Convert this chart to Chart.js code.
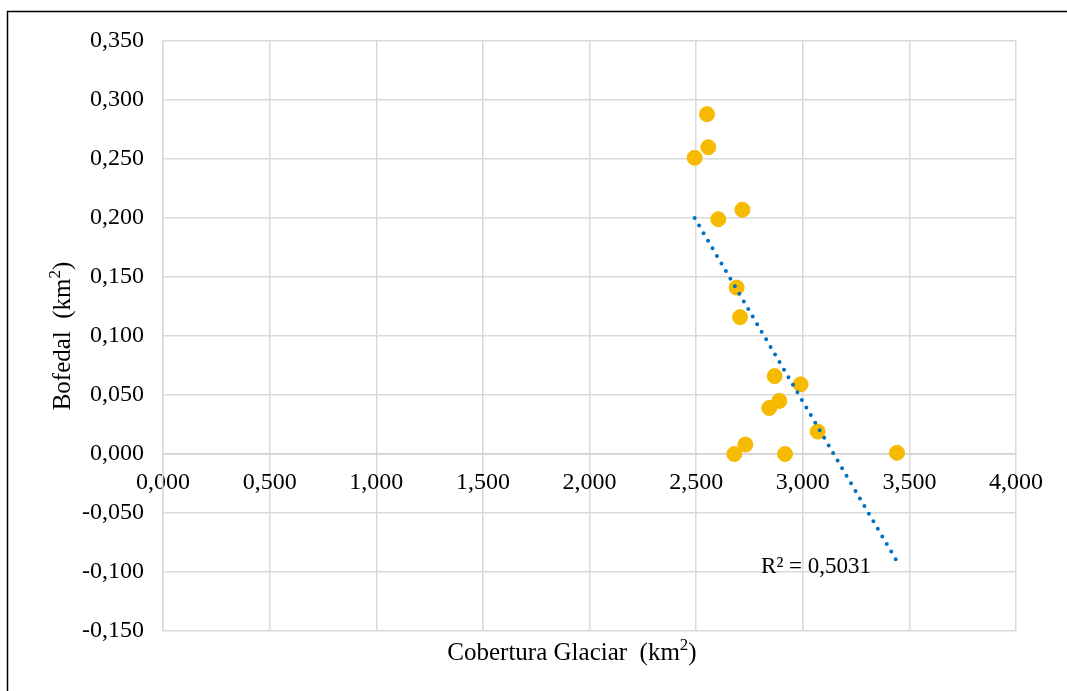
<!DOCTYPE html>
<html>
<head>
<meta charset="utf-8">
<script src="https://cdn.jsdelivr.net/npm/chart.js@4.4.1/dist/chart.umd.min.js"></script>
<style>
    html, body { margin: 0; padding: 0; background: #ffffff; }
    #wrap { width: 1067px; height: 691px; position: relative; }
</style>
</head>
<body>
<div id="wrap"><canvas id="grafico"></canvas></div>
<script>
// Dados
const cobertura = [2.551, 2.557, 2.493, 2.604, 2.717, 2.690, 2.706, 2.868, 2.990, 2.890, 2.843, 3.070, 2.731, 2.679, 2.917, 3.442];
const bofedal   = [0.288, 0.260, 0.251, 0.199, 0.207, 0.141, 0.116, 0.066, 0.059, 0.045, 0.039, 0.019, 0.008, 0.000, 0.000, 0.001];

// Linha de tendência (extremos)
const tendenciaX = [2.493, 3.442];
const tendenciaY = [0.200, -0.091];
const textoR2 = 'R² = 0,5031';

const tituloX = 'Cobertura Glaciar  (km';
const tituloY = 'Bofedal  (km';

const fonte = "'Liberation Serif', 'Times New Roman', serif";

function formatar(v) {
    const s = (Math.round(v * 1000) / 1000).toFixed(3).replace('.', ',');
    return s === '-0,000' ? '0,000' : s;
}

// escreve "texto(km" + "2" sobrescrito + ")" centrado em (0,0)
function tituloComExpoente(c, texto) {
    const fGrande = '25px ' + fonte;
    const fPeq = '17px ' + fonte;
    c.font = fGrande;
    const w1 = c.measureText(texto).width;
    const w3 = c.measureText(')').width;
    c.font = fPeq;
    const w2 = c.measureText('2').width;
    let x = -(w1 + w2 + w3) / 2;
    c.textAlign = 'left';
    c.textBaseline = 'alphabetic';
    c.font = fGrande;
    c.fillText(texto, x, 8);
    x += w1;
    c.font = fPeq;
    c.fillText('2', x, -2);
    x += w2;
    c.font = fGrande;
    c.fillText(')', x, 8);
}

// Moldura, títulos e R²
const extras = {
    id: 'extras',
    beforeDraw(chart) {
        const c = chart.ctx;
        c.save();
        c.fillStyle = '#ffffff';
        c.fillRect(0, 0, chart.width, chart.height);
        c.strokeStyle = '#000000';
        c.lineWidth = 1.5;
        c.strokeRect(7.5, 11.5, 1200, 900);
        c.restore();
    },
    afterDraw(chart) {
        const c = chart.ctx;
        c.save();
        c.fillStyle = '#000000';
        c.translate(572, 652);
        tituloComExpoente(c, tituloX);
        c.restore();

        c.save();
        c.fillStyle = '#000000';
        c.translate(62, 336);
        c.rotate(-Math.PI / 2);
        tituloComExpoente(c, tituloY);
        c.restore();

        const px = chart.scales.x.getPixelForValue(tendenciaX[1]);
        const py = chart.scales.y.getPixelForValue(tendenciaY[1]);
        c.save();
        c.fillStyle = '#000000';
        c.font = '23px ' + fonte;
        c.textAlign = 'right';
        c.textBaseline = 'alphabetic';
        c.fillText(textoR2, px - 26, py + 12);
        c.restore();
    }
};

const ctx = document.getElementById('grafico').getContext('2d');

new Chart(ctx, {
    type: 'scatter',
    data: {
        datasets: [
            {
                type: 'line',
                label: 'Tendência',
                data: tendenciaX.map((x, i) => ({ x: x, y: tendenciaY[i] })),
                borderColor: '#0070C0',
                borderWidth: 4,
                borderDash: [0, 8.8],
                borderCapStyle: 'round',
                pointRadius: 0,
                fill: false,
                order: 0
            },
            {
                label: 'Bofedal',
                data: cobertura.map((x, i) => ({ x: x, y: bofedal[i] })),
                backgroundColor: 'rgb(246, 186, 0)',
                borderColor: 'rgb(246, 186, 0)',
                pointRadius: 7.5,
                order: 1
            }
        ]
    },
    options: {
        responsive: true,
        maintainAspectRatio: false,
        animation: false,
        layout: {
            padding: { top: 41, right: 51, bottom: 60, left: 0 }
        },
        scales: {
            x: {
                type: 'linear',
                position: { y: 0 },
                min: 0,
                max: 4,
                grid: { color: '#d9d9d9', lineWidth: 1.5, drawTicks: false },
                border: { color: '#d0d0d0', width: 1.5 },
                ticks: {
                    stepSize: 0.5,
                    padding: 14,
                    color: '#000000',
                    font: { family: fonte, size: 24 },
                    callback: v => formatar(v)
                }
            },
            y: {
                type: 'linear',
                min: -0.15,
                max: 0.35,
                afterFit: s => { s.width = 163; },
                grid: { color: '#d9d9d9', lineWidth: 1.5, drawTicks: false },
                border: { color: '#d9d9d9', width: 1.5 },
                ticks: {
                    stepSize: 0.05,
                    padding: 19,
                    color: '#000000',
                    font: { family: fonte, size: 24 },
                    callback: v => formatar(v)
                }
            }
        },
        plugins: {
            legend: { display: false },
            tooltip: { enabled: false }
        }
    },
    plugins: [extras]
});
</script>
</body>
</html>
